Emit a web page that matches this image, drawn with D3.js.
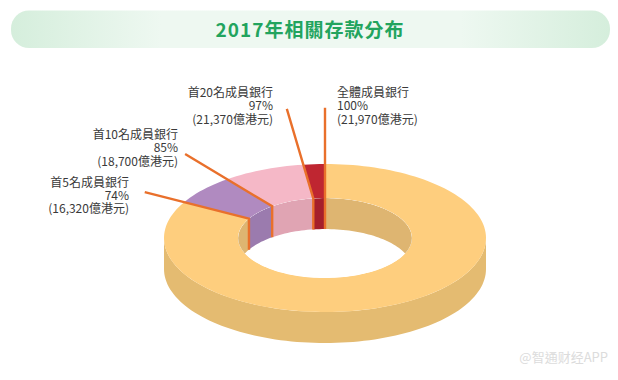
<!DOCTYPE html>
<html>
<head>
<meta charset="utf-8">
<script src="https://cdn.jsdelivr.net/npm/d3@7"></script>
<style>
  body { margin: 0; background: #fff; }
  svg text { font-family: "Noto Sans CJK TC", "Noto Sans", sans-serif; }
</style>
</head>
<body>
<svg id="chart" width="618" height="380"></svg>
<script>
// cumulative share of deposits, by group of member banks (2017)
var groupNames = ['首5名成員銀行', '首10名成員銀行', '首20名成員銀行', '全體成員銀行'];
var cumPercent = [74, 85, 97, 100];
var cumAmount = [16320, 18700, 21370, 21970]; // 億港元

var topColors = ['#FECE7E', '#B08AC0', '#F5B8C7', '#BF2631'];
var sideColors = ['#E4BB71', '#9B7BAE', '#E0A4B3', '#A51F2B'];
var innerColors = ['#DEB571', '#9B7BAE', '#E0A4B3', '#A51F2B'];

// slice sizes = steps between cumulative amounts
var sliceValues = cumAmount.map(function(v, i) { return i == 0 ? v : v - cumAmount[i - 1]; });

var svg = d3.select('#chart');

// ---- title banner
var defs = svg.append('defs');
var grad = defs.append('linearGradient').attr('id', 'bannerGrad')
    .attr('x1', '0%').attr('x2', '100%').attr('y1', '0%').attr('y2', '0%');
grad.append('stop').attr('offset', '0%').attr('stop-color', '#D5EEDC');
grad.append('stop').attr('offset', '25%').attr('stop-color', '#EEF8F1');
grad.append('stop').attr('offset', '75%').attr('stop-color', '#EEF8F1');
grad.append('stop').attr('offset', '100%').attr('stop-color', '#D5EEDC');

svg.append('rect')
    .attr('x', 11).attr('y', 10.5).attr('width', 599).attr('height', 37.5)
    .attr('rx', 18).attr('fill', 'url(#bannerGrad)');
svg.append('text')
    .attr('x', 310).attr('y', 37)
    .attr('text-anchor', 'middle')
    .attr('fill', '#22A45E')
    .style('font-size', '19px').style('font-weight', 'bold').style('letter-spacing', '1px')
    .text('2017年相關存款分布');

// ---- 3d donut geometry
var cx = 325, cy = 238, rx = 161, ry = 74;
var innerT = 0.54;     // inner radius / outer radius
var depth = 31;
var persp = 0.6;       // how much the far-left part of the ring is squeezed
var perspAt = 280;     // direction (deg clockwise from top) that is squeezed most

var pie = d3.pie().sort(null).startAngle(0).endAngle(2 * Math.PI);
var arcs = pie(sliceValues);

function squeeze(psi) {
    psi = ((psi % 360) + 540) % 360 - 180;
    return 2 * Math.atan(persp * Math.tan(psi * Math.PI / 360)) * 180 / Math.PI - psi;
}
// pie angle (radians, clockwise from top) -> drawn angle in degrees
function warp(a) {
    var deg = a * 180 / Math.PI;
    return deg + squeeze(deg - perspAt) - squeeze(-perspAt);
}

function pt(deg, t, dy) {
    var r = deg * Math.PI / 180;
    return [cx + t * rx * Math.sin(r), cy - t * ry * Math.cos(r) + (dy || 0)];
}

function arcPts(d0, d1, t, dy) {
    var n = Math.max(2, Math.ceil(Math.abs(d1 - d0) / 2));
    var pts = [];
    for (var i = 0; i <= n; i++) pts.push(pt(d0 + (d1 - d0) * i / n, t, dy));
    return pts;
}

var line = d3.line();

function band(d0, d1, t, dyA, tB, dyB) {
    var a = arcPts(d0, d1, t, dyA);
    var b = arcPts(d1, d0, tB, dyB);
    return line(a.concat(b)) + 'Z';
}

function clipRange(d0, d1, lo, hi) {
    var a = Math.max(d0, lo), b = Math.min(d1, hi);
    return a < b ? [a, b] : null;
}

var slices = arcs.map(function(d, i) {
    return { i: i, a0: warp(d.startAngle), a1: warp(d.endAngle) };
});

var gDonut = svg.append('g');

// outer side wall (front half only)
slices.forEach(function(s) {
    var r = clipRange(s.a0, s.a1, 90, 270);
    if (!r) return;
    gDonut.append('path')
        .attr('d', band(r[0], r[1], 1, 0, 1, depth))
        .attr('fill', sideColors[s.i]);
});

// top face
slices.forEach(function(s) {
    gDonut.append('path')
        .attr('d', band(s.a0, s.a1, 1, 0, innerT, 0))
        .attr('fill', topColors[s.i]);
});

// inner wall (far half, seen through the hole)
defs.append('clipPath').attr('id', 'holeClip')
    .append('ellipse')
    .attr('cx', cx).attr('cy', cy)
    .attr('rx', rx * innerT).attr('ry', ry * innerT);

var gInner = gDonut.append('g').attr('clip-path', 'url(#holeClip)');
gInner.append('ellipse')
    .attr('cx', cx).attr('cy', cy)
    .attr('rx', rx * innerT).attr('ry', ry * innerT)
    .attr('fill', '#fff');

slices.forEach(function(s) {
    [[0, 90], [270, 360]].forEach(function(h) {
        var r = clipRange(s.a0, s.a1, h[0], h[1]);
        if (!r) return;
        gInner.append('path')
            .attr('d', band(r[0], r[1], innerT, 0, innerT, depth))
            .attr('fill', innerColors[s.i]);
    });
});

// ---- leader lines along slice boundaries + labels
var leaderLen = [1.28, 1.43, 1.76, 1.76];
var labelPos = [
    { x: 129, y: 186.5, anchor: 'end' },
    { x: 178, y: 139, anchor: 'end' },
    { x: 273, y: 97, anchor: 'end' },
    { x: 337, y: 97, anchor: 'start' }
];
var fmt = d3.format(',');
var gLead = svg.append('g');

cumPercent.forEach(function(p, i) {
    var ang = warp(arcs[i].endAngle);
    var p0 = pt(ang, leaderLen[i], 0);
    var p1 = pt(ang, innerT, 0);
    var pts = [p0, p1];
    if (ang <= 90 || ang >= 270) pts.push([p1[0], p1[1] + depth]);
    gLead.append('path')
        .attr('d', line(pts))
        .attr('fill', 'none')
        .attr('stroke', '#E9702B')
        .attr('stroke-width', 2.4);

    var lp = labelPos[i];
    var t = svg.append('text')
        .attr('x', lp.x).attr('y', lp.y)
        .attr('text-anchor', lp.anchor)
        .attr('fill', '#3a3a3a')
        .style('font-size', '12px');
    t.append('tspan').attr('x', lp.x).attr('dy', 0).text(groupNames[i]);
    t.append('tspan').attr('x', lp.x).attr('dy', 13.4).text(p + '%');
    t.append('tspan').attr('x', lp.x).attr('dy', 13.4).text('(' + fmt(cumAmount[i]) + '億港元)');
});

// watermark
svg.append('text')
    .attr('x', 608).attr('y', 362)
    .attr('text-anchor', 'end')
    .attr('fill', '#dcdcdc')
    .style('font-size', '13px')
    .text('@智通财经APP');
</script>
</body>
</html>
